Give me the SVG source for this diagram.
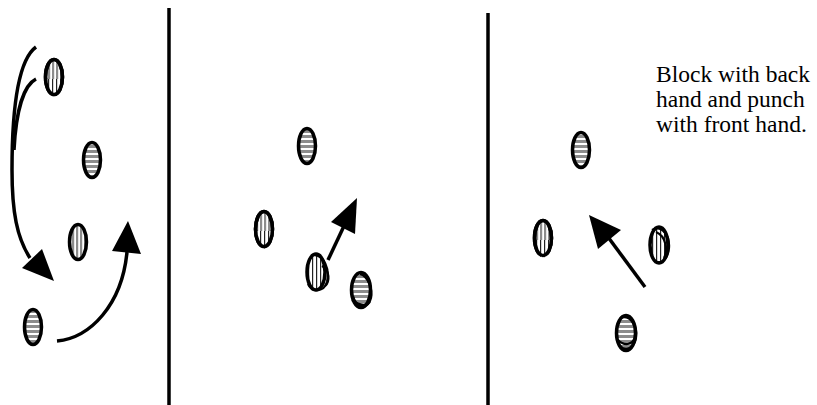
<svg xmlns="http://www.w3.org/2000/svg" width="817" height="405" viewBox="0 0 817 405">
<style>
.pl{fill:url(#hs);stroke:#000;stroke-width:3.5}
.pv{fill:url(#vs);stroke:#000;stroke-width:3.5}
.ol{fill:none;stroke:#000;stroke-width:3.5}
.sc{fill:none;stroke:#000;stroke-width:2.2}
.cv{fill:none;stroke:#000;stroke-width:3.5}
.ah{fill:#000}
.dv{stroke:#000;stroke-width:3.5}
.tx{font-family:"Liberation Serif","DejaVu Serif",serif;font-size:23.5px;fill:#000}
</style>
<defs>
<pattern id="hs" width="20" height="5" patternUnits="userSpaceOnUse">
<rect width="20" height="5" fill="#fff"/>
<rect width="20" height="3" fill="#8c8c8c"/>
</pattern>
<pattern id="vs" width="4" height="20" patternUnits="userSpaceOnUse">
<rect width="4" height="20" fill="#fff"/>
<rect width="2.2" height="20" fill="#8c8c8c"/>
</pattern>
<pattern id="vk" width="4" height="20" patternUnits="userSpaceOnUse">
<rect width="4" height="20" fill="#fff"/>
<rect width="1.2" height="20" fill="#222"/>
</pattern>
</defs>
<g id="dividers">
<line class="dv" x1="169" y1="8" x2="169" y2="405"/>
<line class="dv" x1="488" y1="13" x2="488" y2="405"/>
</g>
<g id="p1-n1"><ellipse class="pv" cx="54" cy="77" rx="8.5" ry="17.5"/><path d="M45.5,79 H62.5 A8.5,17.5 0 0 1 45.5,79 Z" fill="url(#vk)"/><ellipse class="ol" cx="54" cy="77" rx="8.5" ry="17.5"/></g>
<g id="p1-n2"><ellipse class="pl" cx="92" cy="160" rx="8.5" ry="17.5"/></g>
<g id="p1-n3"><ellipse class="pv" cx="78" cy="242" rx="8.5" ry="17.5"/></g>
<g id="p1-n4"><ellipse class="pl" cx="33" cy="327" rx="8.5" ry="17.5"/></g>
<g id="p2-n1"><ellipse class="pl" cx="307" cy="146" rx="8.5" ry="17.5"/></g>
<g id="p2-n2"><ellipse class="pv" cx="264" cy="229" rx="8.5" ry="17.5"/><path d="M255.5,231 H272.5 A8.5,17.5 0 0 1 255.5,231 Z" fill="url(#vk)"/><ellipse class="ol" cx="264" cy="229" rx="8.5" ry="17.5"/></g>
<g id="p2-n3"><ellipse cx="316" cy="272" rx="9" ry="18" fill="url(#vk)" stroke="#000" stroke-width="3.5"/><path class="sc" d="M314,255 C324,256 330,268 327,282 C324,292 312,293 308,284"/><path class="sc" d="M322,266 C330,270 330,282 325,286"/></g>
<g id="p2-n4"><ellipse cx="361" cy="290" rx="9.5" ry="17.5" fill="url(#hs)" stroke="#000" stroke-width="3.5"/><path class="sc" d="M353,296 C356,308 368,310 371,298 C373,290 368,276 360,274"/><path class="sc" d="M352,300 C360,306 366,306 370,302"/></g>
<g id="p3-n1"><ellipse class="pl" cx="581" cy="150" rx="8.5" ry="17.5"/></g>
<g id="p3-n2"><ellipse class="pv" cx="543" cy="238" rx="8.5" ry="17.5"/><path d="M534.5,240 H551.5 A8.5,17.5 0 0 1 534.5,240 Z" fill="url(#vk)"/><ellipse class="ol" cx="543" cy="238" rx="8.5" ry="17.5"/></g>
<g id="p3-n3"><ellipse cx="659" cy="245" rx="9" ry="18" fill="url(#vk)" stroke="#000" stroke-width="3.5"/><path class="sc" d="M652,230 C662,224 670,236 669,248 C668,260 660,266 654,260"/><path class="sc" d="M656,232 C666,236 668,250 664,258"/></g>
<g id="p3-n4"><ellipse cx="626" cy="333" rx="9.5" ry="17.5" fill="url(#hs)" stroke="#000" stroke-width="3.5"/><path class="sc" d="M620,318 C630,314 638,326 636,338 C634,348 626,352 620,346"/><path class="sc" d="M618,340 C624,346 632,346 636,336"/></g>
<g id="connectors">
<path class="cv" d="M36,47 C18,60 12,110 12,170 C12,212 17,238 30,258"/>
<path class="cv" d="M36,79 C24,85 16,110 14,150"/>
<polygon class="ah" points="22,268 42,249 54,281"/>
<path class="cv" d="M57,341 C90,338 122,305 127,252"/>
<polygon class="ah" points="128,221 112,251 141,254"/>
<line class="cv" stroke-width="3" x1="328" y1="260" x2="344" y2="226"/>
<polygon class="ah" points="357,198 331,222 355,234"/>
<line class="cv" x1="645" y1="287" x2="608" y2="237"/>
<polygon class="ah" points="589,215 598,249 621,230"/>
</g>
<g id="note" font-family="Liberation Serif, DejaVu Serif, serif">
<text class="tx" x="656" y="82">Block with back</text>
<text class="tx" x="656" y="107">hand and punch</text>
<text class="tx" x="656" y="132">with front hand.</text>
</g>
</svg>
